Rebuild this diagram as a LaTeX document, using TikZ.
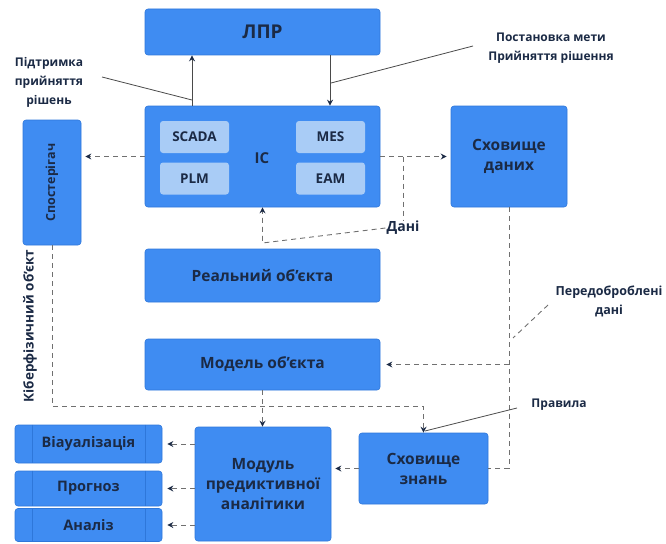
\documentclass[tikz,border=0pt]{standalone}
\usepackage{fontspec}
\setmainfont{Open Sans}
\usetikzlibrary{arrows.meta}
\definecolor{boxblue}{HTML}{3F8CF2}
\definecolor{boxedge}{HTML}{2E77DA}
\definecolor{innerblue}{HTML}{A9CCF6}
\definecolor{ink}{HTML}{1B2A45}
\definecolor{wire}{HTML}{707070}
\definecolor{lead}{HTML}{4A4A4A}
\tikzset{
  box/.style={draw=boxedge, fill=boxblue, rounded corners=3pt, line width=0.6pt,
    inner sep=0pt, align=center, text=ink, font=\bfseries\fontsize{15.5}{20}\selectfont},
  inner/.style={box, draw=none, fill=innerblue, minimum width=69pt, minimum height=32pt,
    font=\bfseries\fontsize{13.5}{16}\selectfont},
  procbox/.style={box, minimum width=147pt, font=\bfseries\fontsize{14.5}{18}\selectfont},
  lbl/.style={align=center, text=ink, inner sep=1pt, font=\bfseries\fontsize{12}{19}\selectfont},
  flow/.style={draw=wire, line width=0.9pt, dash pattern=on 5pt off 4pt,
    -{Stealth[length=6pt,width=6pt,color=ink]}},
  dline/.style={draw=wire, line width=0.9pt, dash pattern=on 5pt off 4pt},
  solidarrow/.style={draw=lead, line width=1pt, -{Stealth[length=6pt,width=6pt,color=ink]}},
  pointer/.style={draw=lead, line width=0.8pt},
}
\begin{document}
\begin{tikzpicture}[x=1pt,y=-1pt]
\useasboundingbox (0,0) rectangle (666,543);

% main blocks
\node[box, minimum width=235pt, minimum height=46pt, font=\bfseries\fontsize{19}{23}\selectfont] (lpr) at (262.5,32) {ЛПР};
\node[box, minimum width=235pt, minimum height=101pt] (ic) at (262.5,156.5) {};
\node[inner] (scada) at (194.5,137) {SCADA};
\node[inner] (plm) at (194.5,178.5) {PLM};
\node[inner] (mes) at (330.5,137) {MES};
\node[inner] (eam) at (330.5,178.5) {EAM};
\node[text=ink, font=\bfseries\fontsize{15}{19}\selectfont] (iclbl) at (262,158) {IC};

\node[box, minimum width=58pt, minimum height=125pt] (obs) at (52,182.5) {};
\node[rotate=90, text=ink, font=\bfseries\fontsize{12.5}{15}\selectfont] (obslbl) at (obs.center) {Спостерігач};

\node[box, minimum width=116pt, minimum height=101pt] (dw) at (509,156.5) {Сховище\\даних};
\node[box, minimum width=235pt, minimum height=53pt] (real) at (262.5,275.5) {Реальний об'єкта};
\node[box, minimum width=235pt, minimum height=51pt] (model) at (262.5,364.5) {Модель об'єкта};
\node[box, minimum width=129pt, minimum height=71pt] (kb) at (423.5,468.5) {Сховище\\знань};
\node[box, minimum width=136pt, minimum height=114pt] (pam) at (263,484) {Модуль\\предиктивної\\аналітики};

% output blocks with side bars
\node[procbox, minimum height=38pt] (vis) at (88.5,444) {Віауалізація};
\node[procbox, minimum height=35pt] (prog) at (88.5,488.5) {Прогноз};
\node[procbox, minimum height=33pt] (anal) at (88.5,525) {Аналіз};
\foreach \b in {vis,prog,anal}{
  \draw[boxedge, line width=0.6pt] ([xshift=18pt]\b.north west) -- ([xshift=18pt]\b.south west);
  \draw[boxedge, line width=0.6pt] ([xshift=-17pt]\b.north east) -- ([xshift=-17pt]\b.south east);
}

% labels
\node[lbl] (sup) at (49,82) {Підтримка\\прийняття\\рішень};
\node[lbl] (goal) at (551,48) {Постановка мети\\Прийняття рішення};
\node[lbl, font=\bfseries\fontsize{14}{17}\selectfont] (dani) at (403,228) {Дані};
\node[lbl, font=\bfseries\fontsize{12.5}{19}\selectfont] (pre) at (609,301) {Передоброблені\\дані};
\node[lbl] (rules) at (559,405) {Правила};
\node[lbl, rotate=90, font=\bfseries\fontsize{13.5}{16}\selectfont] (cyber) at (30,326) {Кіберфізичний об'єкт};

% decision loop
\draw[solidarrow] ([xshift=-70.5pt]ic.north) -- ([xshift=-70.5pt]lpr.south);
\draw[solidarrow] ([xshift=67.5pt]lpr.south) -- ([xshift=67.5pt]ic.north);
\coordinate (supA) at (102,77);
\coordinate (supB) at (192,100);
\draw[pointer] (supA) -- (supB);
\coordinate (goalA) at (473,46);
\coordinate (goalB) at (331,83);
\draw[pointer] (goalA) -- (goalB);

% data flows around IC
\draw[flow, shorten >=4pt] (ic.west) -- (ic.west -| obs.east);
\draw[flow, shorten >=4pt] (ic.east) -- (ic.east -| dw.west);
\draw[dline] (dani.north |- ic.east) -- (dani.north);
\coordinate (dbend) at (262.5,243);
\draw[flow] (dani.west) -- (dbend) -- (ic.south);

% storage and model
\coordinate (dwlow) at (dw.south |- kb.east);
\draw[dline] (dw.south) -- (dwlow) -- (kb.east);
\draw[flow, shorten >=6pt] (dw.south |- model.east) -- (model.east);
\coordinate (preA) at (548,305);
\coordinate (preB) at (513,338);
\draw[dline] (preA) -- (preB);

% cyber-physical loop
\coordinate (cyA) at (obs.south |- 0,406);
\coordinate (cyB) at (kb.north |- 0,406);
\draw[flow] (obs.south) -- (cyA) -- (cyB) -- (kb.north);
\coordinate (rulesA) at (517,408);
\coordinate (rulesB) at (425,431);
\draw[pointer] (rulesA) -- (rulesB);
\draw[flow] (model.south) -- (model.south |- pam.north);
\draw[flow, shorten >=4pt] (kb.west) -- (kb.west -| pam.east);

% analytics outputs
\draw[flow, shorten >=5pt] (vis.east -| pam.west) -- (vis.east);
\draw[flow, shorten >=5pt] (prog.east -| pam.west) -- (prog.east);
\draw[flow, shorten >=5pt] (anal.east -| pam.west) -- (anal.east);
\end{tikzpicture}
\end{document}
